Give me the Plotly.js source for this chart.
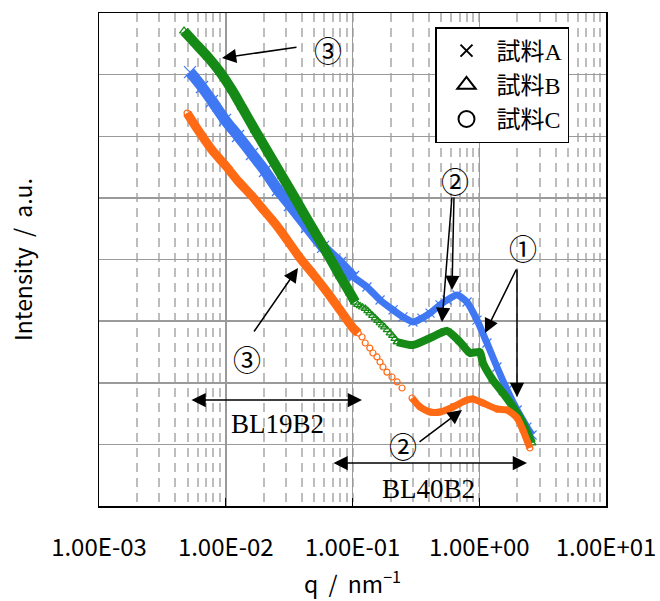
<!DOCTYPE html>
<html>
<head>
<meta charset="utf-8">
<script src="https://cdn.plot.ly/plotly-3.0.1.min.js"></script>
<style>html,body{margin:0;padding:0;background:#fff;}#chart{width:660px;height:601px;}</style>
</head>
<body>
<div id="chart"></div>
<script>
// ---- Data (q in nm^-1, intensity in arbitrary units) ----
// Sample A (blue, x)
const qA1 = [0.00522,0.00650,0.00779,0.00987,0.0125,0.0161,0.0204,0.0258,0.0321,0.0438,0.0585,0.0797,0.101];
const iA1 = [1.10e5,6.30e4,3.73e4,1.84e4,1.01e4,5.15e3,2.73e3,1.34e3,766,337,160,87.7,52.0];
const qA2 = [0.101,0.130,0.165,0.209,0.250,0.300,0.353,0.409,0.490,0.557,0.668,0.801,0.960,1.15,1.38,1.66,1.99,2.38,2.61];
const iA2 = [52.0,35.8,22.0,15.2,11.7,9.68,11.2,13.5,18.3,22.0,26.5,20.4,10.4,4.42,1.80,0.762,0.361,0.191,0.142];
// Sample B (green, triangle)
const qB1 = [0.00469,0.00572,0.00724,0.00901,0.0112,0.0134,0.0170,0.0215,0.0278,0.0352,0.0407,0.0488,0.0629,0.0797,0.0956,0.105];
const iB1 = [5.10e5,3.26e5,1.93e5,1.10e5,5.63e4,2.98e4,1.26e4,5.55e3,2.26e3,995,590,313,128,54.0,28.6,20.4];
const qB2 = [0.110,0.115,0.120,0.126,0.132,0.137,0.144,0.151,0.158,0.165,0.172,0.179,0.188,0.198,0.207,0.216,0.225];
const iB2 = [18.5,17.6,16.8,16.0,14.7,13.5,12.3,11.2,10.2,9.33,8.6,8.0,7.2,6.4,5.8,5.2,4.58];
const qB3 = [0.225,0.300,0.409,0.557,0.705,0.845,1.01,1.07,1.28,1.54,1.85,2.21,2.61];
const iB3 = [4.58,4.10,5.32,6.92,4.58,3.04,3.16,2.09,1.11,0.682,0.405,0.222,0.105];
// Sample C (orange, circle)
const qC1 = [0.00495,0.00604,0.00779,0.00987,0.0125,0.0161,0.0193,0.0232,0.0268,0.0385,0.0488,0.0629,0.0797,0.101,0.111];
const iC1 = [2.38e4,1.26e4,5.98e3,3.42e3,1.88e3,1.07e3,685,438,301,106,58.2,29.7,15.2,7.73,6.41];
const qC2 = [0.119,0.126,0.137,0.145,0.156,0.165,0.174,0.187,0.205,0.225,0.246];
const iC2 = [5.53,4.42,3.66,3.04,2.62,2.17,1.80,1.49,1.24,1.03,0.822];
const qC3 = [0.295,0.341,0.409,0.490,0.621,0.801,0.893,1.07,1.38,1.66,1.99,2.21,2.51];
const iC3 = [0.566,0.405,0.335,0.335,0.405,0.525,0.545,0.469,0.375,0.361,0.268,0.171,0.0873];

const names = ['試料A','試料B','試料C'];
const xTickVals = [0.001,0.01,0.1,1,10];
const xTickText = ['1.00E-03','1.00E-02','1.00E-01','1.00E+00','1.00E+01'];

const cA = '#3f78f2', cB = '#168a16', cC = '#ff6a14';

function dense(x, y, color, sym, lw, ms){
  return {x:x, y:y, type:'scatter', mode:'lines+markers', showlegend:false, hoverinfo:'skip',
    line:{color:color, width:lw, shape:'spline', smoothing:0.6},
    marker:{symbol:sym, size:ms, color:color, line:{color:color, width:1.2}}};
}
function sparse(x, y, color, sym, ms){
  return {x:x, y:y, type:'scatter', mode:'markers', showlegend:false, hoverinfo:'skip',
    marker:{symbol:sym, size:ms, color:color, line:{color:color, width:1.2}}};
}
function legendItem(name, sym, ms){
  return {x:[null], y:[null], type:'scatter', mode:'markers', name:name, showlegend:true,
    marker:{symbol:sym, size:ms, color:'black', line:{color:'black', width:2}}};
}

const traces = [
  dense(qA1, iA1, cA, 'x-thin-open', 11, 12),
  dense(qA2, iA2, cA, 'x-thin-open', 7, 9),
  dense(qB1, iB1, cB, 'triangle-up-open', 10, 8),
  sparse(qB2, iB2, cB, 'triangle-up-open', 7),
  dense(qB3, iB3, cB, 'triangle-up-open', 8, 7),
  dense(qC1, iC1, cC, 'circle-open', 9, 6),
  sparse(qC2, iC2, cC, 'circle-open', 6),
  dense(qC3, iC3, cC, 'circle-open', 7, 6),
  legendItem(names[0], 'x-thin-open', 12),
  legendItem(names[1], 'triangle-up-open', 16),
  legendItem(names[2], 'circle-open', 16)
];

// plot area in pixels: left 99, right 606, top 13, bottom 506
const L = 99, R = 606, T = 13, B = 506;
function fx(p){ return (p - L) / (R - L); }
function fy(p){ return (B - p) / (B - T); }
function arrow(tx, ty, hx, hy, both){
  const a = {xref:'paper', yref:'paper', x:fx(hx), y:fy(hy), axref:'pixel', ayref:'pixel',
    ax:tx-hx, ay:ty-hy, text:'', showarrow:true, arrowhead:2, arrowsize:1.9, arrowwidth:1.5,
    arrowcolor:'black', standoff:0, startstandoff:0};
  if(both){ a.arrowside = 'end+start'; a.startarrowhead = 2; a.startarrowsize = 1.9; }
  return a;
}
function label(x, y, text, fam, size){
  return {xref:'paper', yref:'paper', x:fx(x), y:fy(y), text:text, showarrow:false,
    xanchor:'center', yanchor:'middle', font:{family:fam, size:size, color:'black'}};
}
const CJK = 'Noto Sans CJK JP';
const SERIF = 'Liberation Serif, Noto Sans CJK JP';
const NB = '\u00A0\u00A0';

const annotations = [
  label(328, 50, '③', CJK, 28),
  arrow(298, 47, 222, 58),
  label(455, 181, '②', CJK, 28),
  arrow(454, 196, 452, 290),
  arrow(452, 196, 442, 322),
  label(523, 248, '①', CJK, 28),
  arrow(517, 268, 485, 333),
  arrow(517, 268, 517, 397),
  label(247, 359, '③', CJK, 28),
  arrow(253, 333, 298, 268),
  label(403, 446, '②', CJK, 28),
  arrow(418, 443, 462, 410),
  arrow(190, 400, 362, 400, true),
  label(277, 424, 'BL19B2', SERIF, 27),
  arrow(332, 463, 527, 463, true),
  label(428, 489, 'BL40B2', SERIF, 27)
];

const layout = {
  width:660, height:601,
  margin:{l:L, r:660-R, t:T, b:601-B},
  paper_bgcolor:'white', plot_bgcolor:'white',
  font:{family:CJK, color:'black'},
  showlegend:true,
  legend:{x:fx(435), y:fy(27), xanchor:'left', yanchor:'top',
    bgcolor:'white', bordercolor:'black', borderwidth:1.5,
    font:{family:SERIF, size:24, color:'black'}, itemwidth:50, tracegroupgap:0},
  xaxis:{type:'log', range:[-3,1], tickvals:xTickVals, ticktext:xTickText,
    tickfont:{family:CJK, size:24, color:'black'},
    ticks:'inside', ticklen:8, tickcolor:'black', ticklabelstandoff:20,
    showgrid:true, gridcolor:'#9a9a9a', gridwidth:1.5,
    minor:{dtick:'D1', showgrid:true, gridcolor:'#bdbdbd', griddash:'9px,6px', gridwidth:2, ticks:''},
    showline:true, linecolor:'black', linewidth:1.5, mirror:true, zeroline:false,
    title:{text:'q' + NB + '/' + NB + 'nm<sup>−1</sup>', font:{family:CJK, size:23, color:'black'}, standoff:14}},
  yaxis:{type:'log', range:[-2,6], dtick:1, showticklabels:false, ticks:'',
    showgrid:true, gridcolor:'#9a9a9a', gridwidth:1.5,
    showline:true, linecolor:'black', linewidth:1.5, mirror:true, zeroline:false,
    title:{text:'Intensity' + NB + '/' + NB + 'a.u.', font:{family:CJK, size:23, color:'black'}, standoff:58}},
  annotations:annotations
};

Plotly.newPlot('chart', traces, layout, {staticPlot:true, displayModeBar:false});
</script>
</body>
</html>
